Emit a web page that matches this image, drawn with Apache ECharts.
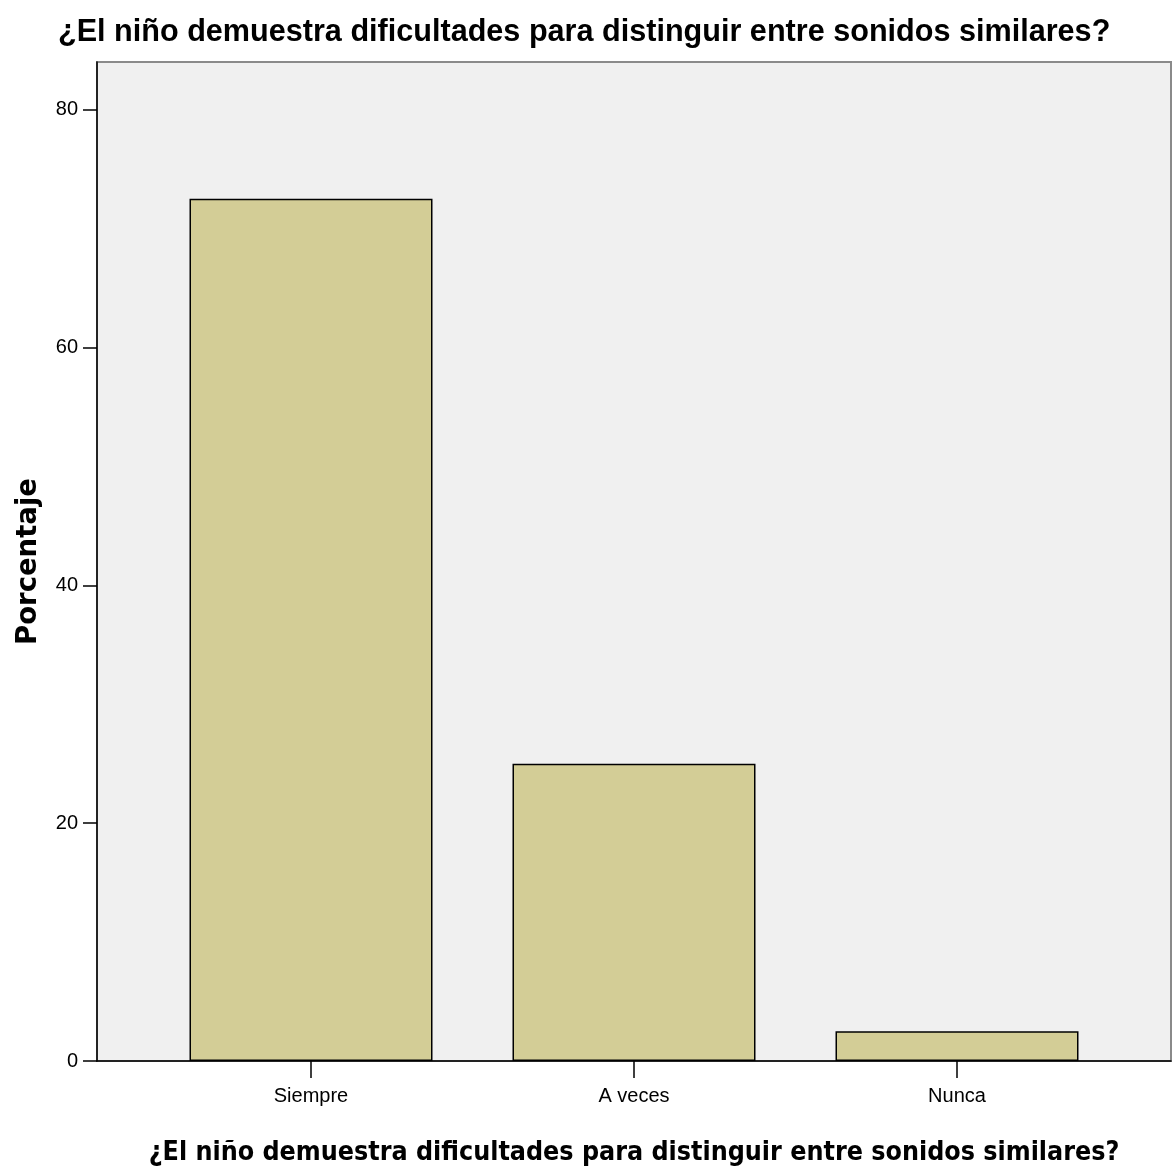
<!DOCTYPE html>
<html>
<head>
<meta charset="utf-8">
<script src="https://cdn.jsdelivr.net/npm/echarts@6/dist/echarts.min.js"></script>
<style>html,body{margin:0;padding:0;background:#fff}#c{width:1172px;height:1171px}</style>
</head>
<body>
<div id="c"></div>
<script>
const titleText = '¿El niño demuestra dificultades para distinguir entre sonidos similares?';
const categories = ['Siempre', 'A veces', 'Nunca'];
const percentages = [72.5, 25.0, 2.5];
const yTicks = [0, 20, 40, 60, 80];
const yName = 'Porcentaje';

const chart = echarts.init(document.getElementById('c'), null, {renderer: 'canvas'});
const narrow = '"Liberation Sans Narrow", "Arial Narrow", "Liberation Sans", sans-serif';
chart.setOption({
  animation: false,
  backgroundColor: '#ffffff',
  title: {
    text: titleText,
    left: 53, top: 12,
    textStyle: {fontFamily: narrow, fontWeight: 'bold', fontSize: 30.6, color: '#000'}
  },
  grid: [
    {left: 97, right: 1, top: 62, bottom: 110, outerBoundsMode: 'none', containLabel: false,
     show: true, backgroundColor: '#f0f0f0', borderColor: '#8a8a8a', borderWidth: 2},
    {left: 149.5, width: 969, top: 62, bottom: 110, outerBoundsMode: 'none', containLabel: false}
  ],
  xAxis: [
    {
      gridIndex: 0, type: 'category', data: [''],
      axisLine: {show: true, lineStyle: {color: '#000', width: 1.5}},
      axisTick: {show: false}, axisLabel: {show: false},
      name: titleText, nameLocation: 'middle', nameGap: 79,
      nameTextStyle: {fontFamily: '"DejaVu Sans Condensed", "DejaVu Sans", sans-serif', fontWeight: 'bold', fontSize: 26.6, color: '#000'}
    },
    {
      gridIndex: 1, type: 'category', data: categories,
      axisLine: {show: false},
      axisTick: {show: true, alignWithLabel: true, length: 17, lineStyle: {color: '#000', width: 1.5}},
      axisLabel: {margin: 25, fontFamily: narrow, fontSize: 20, color: '#000'}
    }
  ],
  yAxis: [
    {
      gridIndex: 0, type: 'value', min: 0, max: 84, interval: 20,
      axisLine: {show: true, lineStyle: {color: '#000', width: 1.5}},
      axisTick: {show: true, length: 14, lineStyle: {color: '#000', width: 1.5}, customValues: yTicks},
      axisLabel: {margin: 19, fontFamily: narrow, fontSize: 20, color: '#000', customValues: yTicks},
      splitLine: {show: false},
      name: yName, nameLocation: 'middle', nameGap: 54,
      nameTextStyle: {fontFamily: '"DejaVu Sans", sans-serif', fontWeight: 'bold', fontSize: 27.5, color: '#000'}
    },
    {
      gridIndex: 1, type: 'value', min: 0, max: 84, show: false, splitLine: {show: false}
    }
  ],
  series: [{
    type: 'bar', xAxisIndex: 1, yAxisIndex: 1,
    data: percentages, barWidth: 243,
    itemStyle: {color: '#d3cd96', borderColor: '#000', borderWidth: 1.5}
  }]
});
</script>
</body>
</html>
